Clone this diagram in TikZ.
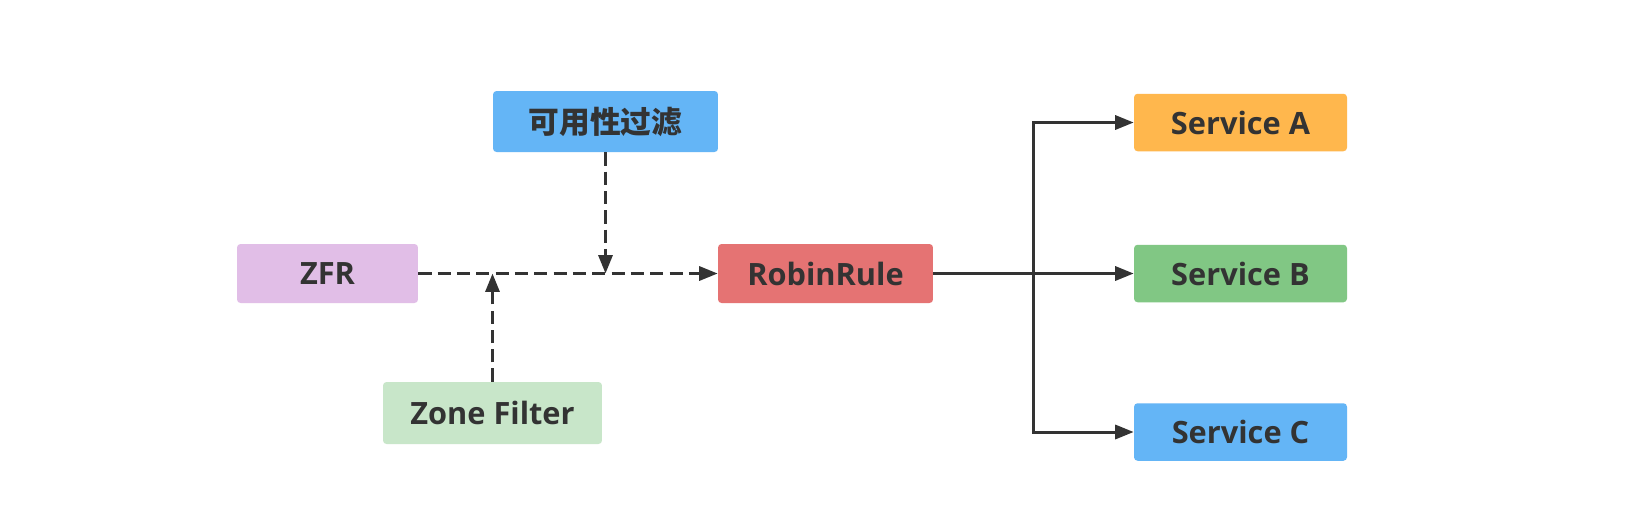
\documentclass[tikz,border=0pt]{standalone}
\usepackage{fontspec}
\setmainfont{Open Sans}
\newfontfamily\cjk{Noto Sans CJK SC}
\usetikzlibrary{arrows.meta, positioning, backgrounds}
\definecolor{txtgray}{HTML}{333333}
\definecolor{linegray}{HTML}{333333}
\definecolor{availblue}{HTML}{64B5F6}
\definecolor{zfrpurple}{HTML}{E1BEE7}
\definecolor{zonegreen}{HTML}{C8E6C9}
\definecolor{robinred}{HTML}{E57373}
\definecolor{svcorange}{HTML}{FFB74D}
\definecolor{svcgreen}{HTML}{81C784}
\definecolor{svcblue}{HTML}{64B5F6}
\tikzstyle{box} = [rectangle, rounded corners=2pt, inner sep=0pt, text=txtgray, font=\bfseries\fontsize{17.5}{20}\selectfont]
\tikzstyle{arrow} = [-{Triangle[length=10.5pt, width=8pt]}, line width=1.7pt, draw=linegray]
\tikzstyle{dasharrow} = [arrow, dash pattern=on 7.5pt off 3.5pt]
\tikzstyle{line} = [-, line width=1.7pt, draw=linegray]

\begin{document}
\begin{tikzpicture}[x=0.02cm, y=-0.02cm]

    \useasboundingbox [fill=white] (0, 0) rectangle (1635, 522);

    \node [box, fill=availblue, minimum width=4.5cm, minimum height=1.22cm] (avail) at (605.5, 121.5) {\cjk 可用性过滤};
    \node [box, fill=zfrpurple, minimum width=3.62cm, minimum height=1.18cm] (zfr) at (327.5, 273.5) {ZFR};
    \node [box, fill=zonegreen, minimum width=4.38cm, minimum height=1.24cm] (zone) at (492.5, 413) {Zone Filter};
    \node [box, fill=robinred, minimum width=4.3cm, minimum height=1.18cm] (robin) at (825.5, 273.5) {RobinRule};

    \node [box, fill=svcorange, minimum width=4.26cm, minimum height=1.15cm] (sa) at (1240.5, 122.5) {Service A};
    \node [box, fill=svcgreen, minimum width=4.26cm, minimum height=1.15cm] (sb) at (1240.5, 273.5) {Service B};
    \node [box, fill=svcblue, minimum width=4.26cm, minimum height=1.15cm] (sc) at (1240.5, 432) {Service C};

    \coordinate (fork) at (1033, 273.5);

    \draw [dasharrow] (zfr) -- (robin);
    \draw [dasharrow] (zone) -- (zone.north |- zfr.east);
    \draw [dasharrow] (avail) -- (avail.south |- zfr.east);

    \draw [line] (robin) -- (fork);
    \draw [arrow] (fork) |- (sa);
    \draw [arrow] (fork) -- (sb);
    \draw [arrow] (fork) |- (sc);

\end{tikzpicture}
\end{document}
